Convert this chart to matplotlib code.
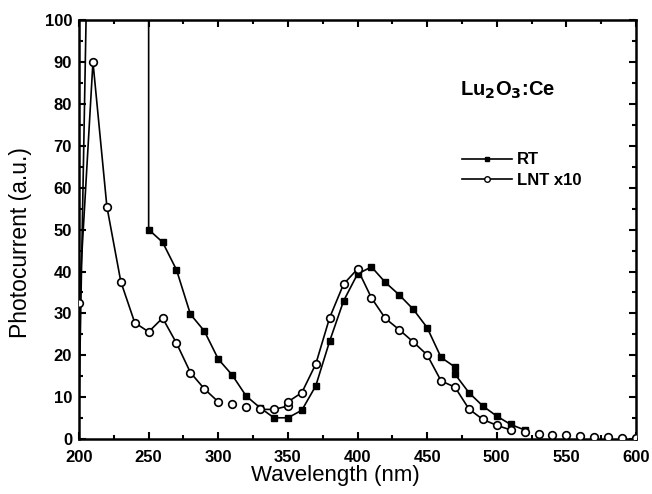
import matplotlib.pyplot as plt
from matplotlib.ticker import MultipleLocator
from matplotlib.lines import Line2D

plt.rcParams['font.family'] = ['Liberation Sans', 'DejaVu Sans']

# RT photocurrent (first points run off the top of the plot)
rt_x = [200, 210, 250, 250, 260, 270, 280, 290, 300, 310, 320, 330, 340, 350,
        360, 370, 380, 390, 400, 410, 420, 430, 440, 450, 460, 470, 470, 480,
        490, 500, 510, 520]
rt_y = [8, 190, 190, 50, 47, 40.4, 29.8, 25.8, 19.1, 15.3, 10.3, 7.5, 5.1, 5.1,
        6.9, 12.7, 23.4, 33, 39.4, 41.1, 37.4, 34.4, 31, 26.6, 19.5, 17.2, 15.5,
        11.1, 7.9, 5.5, 3.5, 2.2]

# LNT photocurrent x10
lnt_x = [200, 210, 220, 230, 240, 250, 260, 270, 280, 290, 300, 310, 320, 330,
         340, 350, 350, 360, 370, 380, 390, 400, 410, 420, 430, 440, 450, 460,
         470, 480, 490, 500, 510, 520, 530, 540, 550, 560, 570, 580, 590, 600]
lnt_y = [32.5, 90, 55.5, 37.6, 27.8, 25.6, 28.9, 22.9, 15.9, 12, 8.9, 8.5, 7.7,
         7.1, 7.1, 7.9, 8.9, 11.1, 17.9, 29, 37, 40.6, 33.7, 28.8, 26.1, 23.2,
         20.1, 13.9, 12.4, 7.2, 4.7, 3.3, 2.2, 1.75, 1.3, 0.9, 0.9, 0.7, 0.6,
         0.5, 0.3, 0.3]

fig = plt.figure(figsize=(6.52, 4.94), dpi=100)
ax = fig.add_axes([0.1212, 0.111, 0.8543, 0.8485])

# RT curve, markers only where the data is on scale
ax.plot(rt_x, rt_y, color='black', lw=1.2, marker='s', ms=4.5,
        markevery=list(range(3, len(rt_x))), zorder=2)

# LNT curve: the original line has gaps, so draw pieces then all markers
for a, b in [(0, 11), (13, 33)]:
    ax.plot(lnt_x[a:b], lnt_y[a:b], color='black', lw=1.2, zorder=3)
ax.plot(lnt_x, lnt_y, ls='none', marker='o', ms=5.5, mfc='white',
        mec='black', mew=1.2, zorder=4)

ax.set_xlim(200, 600)
ax.set_ylim(0, 100)
ax.xaxis.set_major_locator(MultipleLocator(50))
ax.xaxis.set_minor_locator(MultipleLocator(25))
ax.yaxis.set_major_locator(MultipleLocator(10))
ax.yaxis.set_minor_locator(MultipleLocator(5))
ax.tick_params(which='both', direction='in', top=True, right=True, width=1.5)
ax.tick_params(which='major', length=5, labelsize=12)
ax.tick_params(which='minor', length=3)
ax.tick_params(axis='x', which='major', pad=8)
ax.tick_params(axis='y', which='major', pad=5)
for lab in ax.get_xticklabels() + ax.get_yticklabels():
    lab.set_fontweight('bold')
for s in ax.spines.values():
    s.set_linewidth(1.8)

ax.set_xlabel('Wavelength (nm)', fontsize=16)
ax.set_ylabel('Photocurrent (a.u.)', fontsize=16.5)
ax.xaxis.set_label_coords(0.461, -0.062)
ax.yaxis.set_label_coords(-0.084, 0.469)

ax.text(0.684, 0.833, r'Lu$_\mathbf{2}$O$_\mathbf{3}$:Ce', transform=ax.transAxes,
        fontsize=14.5, fontweight='bold', va='center', ha='left')

h1 = Line2D([], [], color='black', lw=1.2, marker='s', ms=3.5)
h2 = Line2D([], [], color='black', lw=1.2, marker='o', ms=4, mfc='white', mew=1)
ax.legend([h1, h2], ['RT', 'LNT x10'], loc='upper left',
          bbox_to_anchor=(0.66, 0.72), frameon=False, handlelength=3.0,
          handletextpad=0.3, labelspacing=0.35, prop={'weight': 'bold', 'size': 12})

fig.savefig('out.png', dpi=100)
